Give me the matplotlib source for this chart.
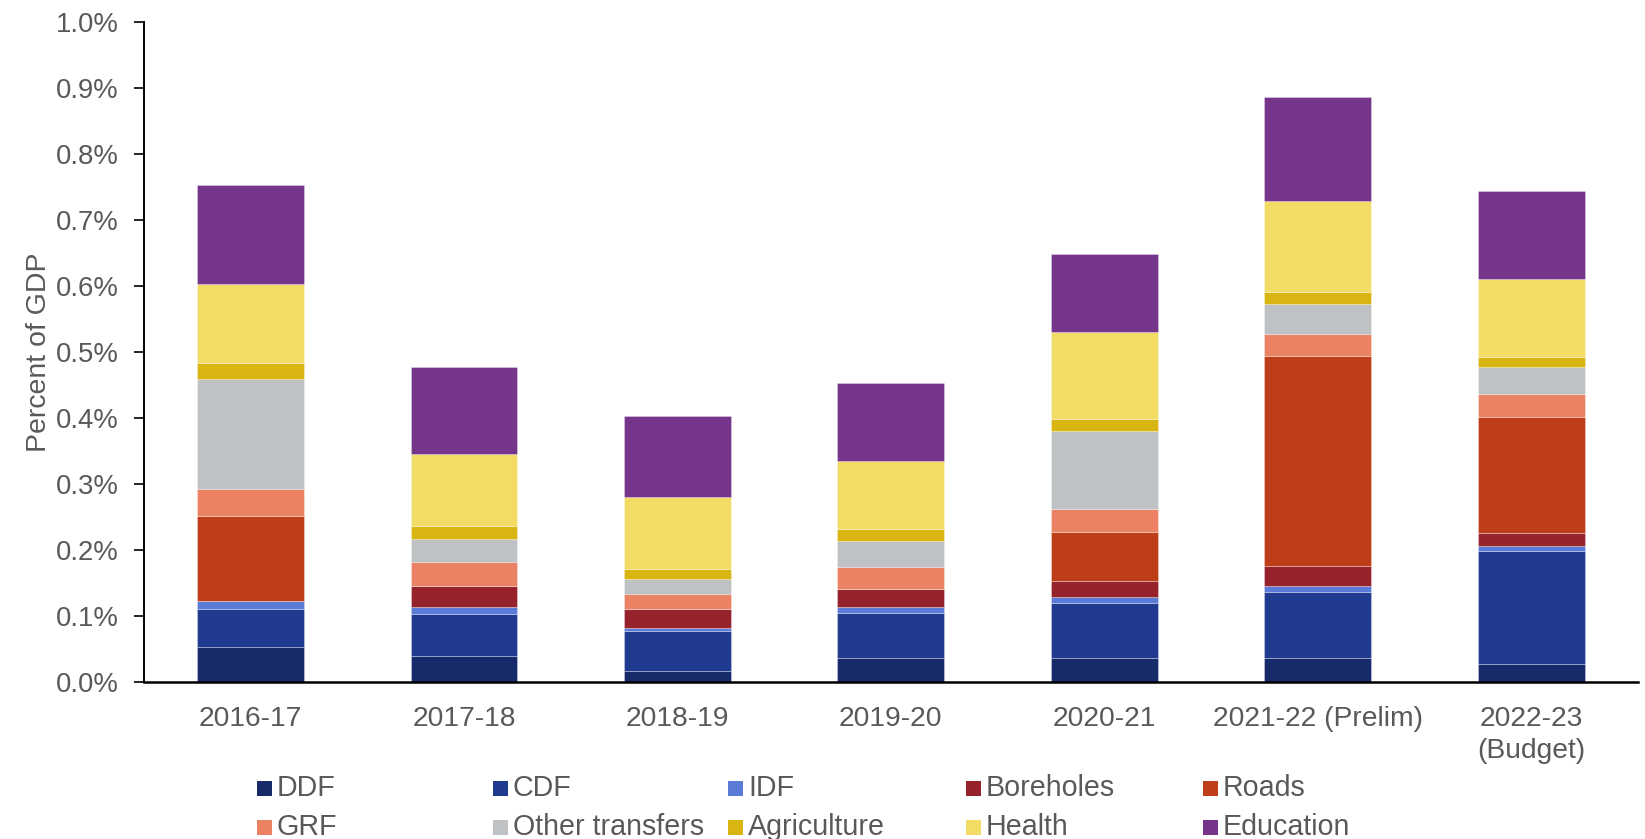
import numpy as np
import matplotlib.pyplot as plt
from matplotlib.patches import Rectangle

years = ['2016-17', '2017-18', '2018-19', '2019-20', '2020-21',
         '2021-22 (Prelim)', '2022-23\n(Budget)']

# percent of GDP, stacked bottom to top
ddf = [0.053, 0.040, 0.016, 0.037, 0.036, 0.036, 0.027]
cdf = [0.057, 0.063, 0.062, 0.067, 0.083, 0.101, 0.172]
idf = [0.013, 0.011, 0.004, 0.010, 0.010, 0.008, 0.007]
boreholes = [0.000, 0.032, 0.029, 0.027, 0.024, 0.031, 0.020]
roads = [0.129, 0.000, 0.000, 0.000, 0.075, 0.318, 0.175]
grf = [0.041, 0.036, 0.023, 0.034, 0.034, 0.034, 0.036]
other = [0.166, 0.034, 0.022, 0.039, 0.119, 0.044, 0.040]
agriculture = [0.025, 0.020, 0.015, 0.018, 0.018, 0.019, 0.016]
health = [0.119, 0.110, 0.109, 0.103, 0.132, 0.138, 0.117]
education = [0.150, 0.132, 0.123, 0.118, 0.117, 0.158, 0.134]

names = ['DDF', 'CDF', 'IDF', 'Boreholes', 'Roads',
         'GRF', 'Other transfers', 'Agriculture', 'Health', 'Education']
series = [ddf, cdf, idf, boreholes, roads, grf, other, agriculture, health, education]
colors = ['#172b6b', '#1f3a8f', '#5a7bd8', '#96232c', '#bf3e1a',
          '#eb8263', '#bec2c5', '#d8b511', '#f2dc66', '#75358a']

grey = '#595959'
plt.rcParams['font.family'] = ['Liberation Sans', 'DejaVu Sans']

fig = plt.figure(figsize=(16.45, 8.39), dpi=100)
ax = fig.add_axes([0.0874, 0.1871, 0.9083, 0.7867])

x = np.arange(len(years))
bottom = np.zeros(len(years))
for vals, c in zip(series, colors):
    vals = np.array(vals)
    ax.bar(x, vals, width=0.5, bottom=bottom, color=c,
           edgecolor=(1, 1, 1, 0.3), linewidth=0.7)
    bottom += vals

ax.set_xlim(-0.5, 6.5)
ax.set_ylim(0, 1.0)
ax.set_yticks(np.arange(0, 1.01, 0.1))
ax.set_yticklabels([f'{v:.1f}%' for v in np.arange(0, 1.01, 0.1)])
ax.set_xticks(x)
ax.set_xticklabels(years)

ax.tick_params(axis='y', direction='out', length=7, width=1.2, pad=11,
               labelsize=19.8, labelcolor=grey)
ax.tick_params(axis='x', length=0, pad=17.5, labelsize=20.3, labelcolor=grey)
for lbl in ax.get_xticklabels():
    lbl.set_linespacing(1.3)

for s in ['top', 'right']:
    ax.spines[s].set_visible(False)
ax.spines['left'].set_linewidth(1.4)
ax.spines['bottom'].set_linewidth(1.8)

ax.set_ylabel('Percent of GDP', fontsize=20.5, color=grey)
ax.yaxis.set_label_coords(-0.0617, 0.5)

# legend: two rows of five, evenly spaced
W, H = 1645, 839
col_x = [257, 493, 728, 966, 1203]
row_y = [788, 827]
sq = 15
for i, (name, c) in enumerate(zip(names, colors)):
    r, k = divmod(i, 5)
    px, py = col_x[k], row_y[r]
    fig.patches.append(Rectangle((px / W, 1 - (py + sq / 2) / H), sq / W, sq / H,
                                 transform=fig.transFigure, facecolor=c,
                                 edgecolor='none'))
    fig.text((px + sq + 5) / W, 1 - py / H, name, fontsize=20.6, color=grey,
             va='center', ha='left')

fig.savefig('out.png', dpi=100)
